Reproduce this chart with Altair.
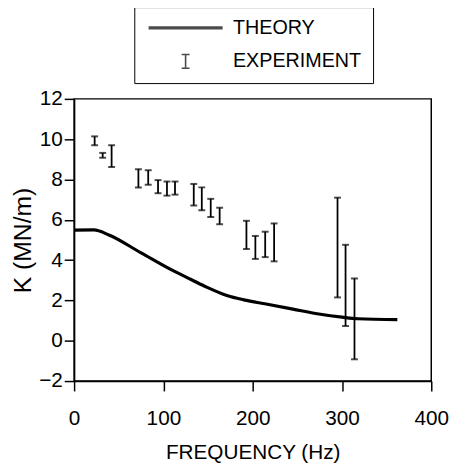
import altair as alt
import pandas as pd

# Theory curve (frequency in Hz, K in MN/m)
freq_theory = [0, 22, 39, 75, 112, 131, 149, 172, 190, 215, 245, 274, 300, 318, 362]
k_theory = [5.49, 5.5, 5.25, 4.36, 3.45, 3.04, 2.65, 2.23, 2.03, 1.82, 1.57, 1.33, 1.17, 1.09, 1.05]

# Experimental error bars
freq_exp = [23, 32, 42, 72, 83, 94, 104, 113, 134, 143, 153, 163, 193, 203, 214, 224, 295, 304, 314]
k_low = [9.7, 9.08, 8.62, 7.6, 7.74, 7.32, 7.2, 7.25, 6.71, 6.47, 6.14, 5.78, 4.55, 4.06, 4.15, 3.94, 2.15, 0.73, -0.92]
k_high = [10.14, 9.32, 9.7, 8.51, 8.46, 7.97, 7.9, 7.9, 7.78, 7.61, 7.04, 6.6, 5.95, 5.2, 5.41, 5.82, 7.1, 4.76, 3.09]

series_names = ["THEORY", "EXPERIMENT"]
x_ticks = [0, 100, 200, 300, 400]
y_ticks = [-2, 0, 2, 4, 6, 8, 10, 12]

theory_df = pd.DataFrame({"f": freq_theory, "k": k_theory})
exp_df = pd.DataFrame({"f": freq_exp, "lo": k_low, "hi": k_high})
leg_df = pd.DataFrame({"series": series_names, "f": [None, None], "k": [None, None]})

FONT = "Liberation Sans, Arial, sans-serif"

xscale = alt.Scale(domain=[0, 400], nice=False, zero=False)
yscale = alt.Scale(domain=[-2, 12], nice=False, zero=False)

xaxis = alt.Axis(values=x_ticks, title="FREQUENCY (Hz)", labelPadding=17,
                 titlePadding=13, labelFontSize=21, titleFontSize=21,
                 labelFlush=False)
yaxis = alt.Axis(values=y_ticks, title="K (MN/m)", labelPadding=2,
                 titlePadding=3, labelFontSize=21, titleFontSize=25)

line_path = "M-7.5,0L7.5,0"
i_path = "M-0.8,-1.4L0.8,-1.4M0,-1.4L0,1.4M-0.8,1.4L0.8,1.4"

legend = alt.Legend(title=None, orient="none", legendX=61, legendY=-93,
                    symbolSize=100, symbolOffset=31, labelFont=FONT,
                    labelFontSize=20, labelColor="black", labelOffset=38,
                    padding=11, rowPadding=13, strokeColor="black",
                    symbolStrokeColor="black", symbolFillColor="transparent")

line = alt.Chart(theory_df).mark_line(color="black", strokeWidth=3.2,
                                      interpolate="monotone").encode(
    x=alt.X("f:Q", scale=xscale, axis=xaxis),
    y=alt.Y("k:Q", scale=yscale, axis=yaxis),
)

rules = alt.Chart(exp_df).mark_rule(color="black", strokeWidth=1.8).encode(
    x=alt.X("f:Q", scale=xscale),
    y=alt.Y("lo:Q", scale=yscale),
    y2="hi:Q",
)
caps_lo = alt.Chart(exp_df).mark_tick(color="black", orient="horizontal",
                                      size=7, thickness=2).encode(
    x=alt.X("f:Q", scale=xscale), y=alt.Y("lo:Q", scale=yscale))
caps_hi = alt.Chart(exp_df).mark_tick(color="black", orient="horizontal",
                                      size=7, thickness=2).encode(
    x=alt.X("f:Q", scale=xscale), y=alt.Y("hi:Q", scale=yscale))

leg = alt.Chart(leg_df).mark_point(filled=False, color="black").encode(
    x=alt.X("f:Q", scale=xscale),
    y=alt.Y("k:Q", scale=yscale),
    shape=alt.Shape("series:N", scale=alt.Scale(domain=series_names,
                                                range=[line_path, i_path]),
                    legend=legend),
    strokeWidth=alt.StrokeWidth("series:N", scale=alt.Scale(domain=series_names,
                                                            range=[3.2, 1.6]),
                                legend=legend),
)

chart = alt.layer(line, rules, caps_lo, caps_hi, leg).properties(
    width=362, height=286,
    autosize=alt.AutoSizeParams(type="none"),
    padding={"left": 67, "top": 89, "right": 20, "bottom": 85},
).configure(
    font=FONT
).configure_view(
    stroke="black", strokeWidth=1.5
).configure_axis(
    grid=False, domainColor="black", domainWidth=1.5, tickColor="black",
    tickWidth=1.5, tickSize=10, labelColor="black", titleColor="black",
    titleFontWeight="normal", labelFont=FONT, titleFont=FONT,
)

chart.save("out.html", embed_options={"renderer": "svg", "actions": False})
